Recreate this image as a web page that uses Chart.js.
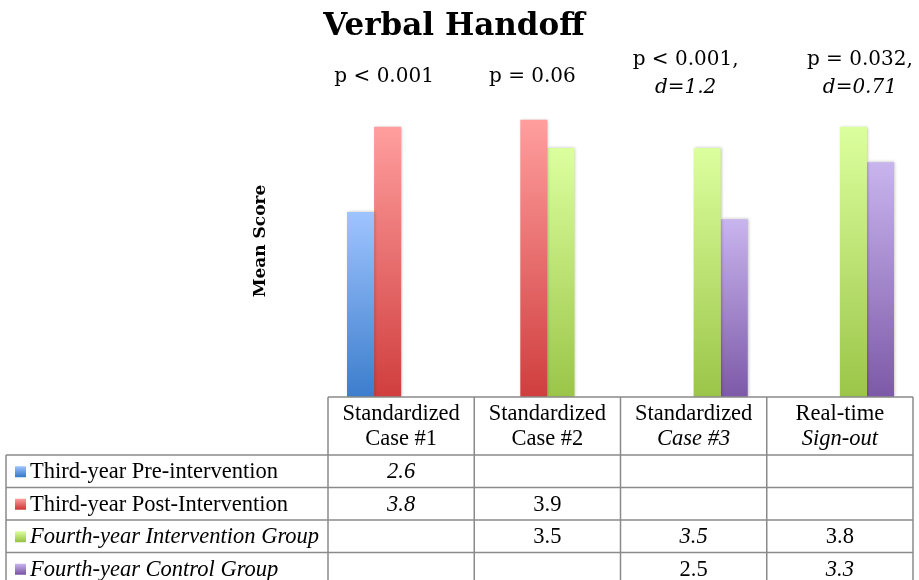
<!DOCTYPE html>
<html>
<head>
<meta charset="utf-8">
<script src="https://cdn.jsdelivr.net/npm/chart.js@4/dist/chart.umd.min.js"></script>
<style>
html,body{margin:0;padding:0;background:#fff;}
canvas{display:block;}
</style>
</head>
<body>
<canvas id="c" width="919" height="580"></canvas>
<script>
// ---- data ----
const categoriesLine1 = ["Standardized", "Standardized", "Standardized", "Real-time"];
const categoriesLine2 = ["Case #1", "Case #2", "Case #3", "Sign-out"];
const seriesNames = ["Third-year Pre-intervention", "Third-year Post-Intervention", "Fourth-year Intervention Group", "Fourth-year Control Group"];
const preIntervention  = [2.6, null, null, null];
const postIntervention = [3.8, 3.9, null, null];
const fourthIntervention = [null, 3.5, 3.5, 3.8];
const fourthControl    = [null, null, 2.5, 3.3];
const pLine1 = ["p < 0.001", "p = 0.06", "p < 0.001,", "p = 0.032,"];
const pLine2 = ["", "", "d=1.2", "d=0.71"];
const chartTitle = "Verbal Handoff";
const yTitle = "Mean Score";

// ---- styles ----
const topColors = ["#9fc4ff", "#ff9e9e", "#dcff9e", "#c9b5ee"];
const bottomColors = ["#3c7dcc", "#d03e3e", "#9bc548", "#7d59a8"];
const headerLine2Italic = [false, false, true, true];
const labelItalic = [false, false, true, true];
const cellItalic = [
  [true, false, false, false],
  [true, false, false, false],
  [false, false, true, false],
  [false, false, false, true]
];
const pOffsets = [-17, -15, -8, 20];
const serif = '"Liberation Serif", serif';
const serif2 = '"DejaVu Serif", serif';
const tblFont = '22.5px ';

const allSeries = [preIntervention, postIntervention, fourthIntervention, fourthControl];

function gradFor(si) {
  return function(ctx) {
    const chart = ctx.chart;
    if (!chart.chartArea || ctx.raw == null) return bottomColors[si];
    const y = chart.scales.y;
    const top = y.getPixelForValue(ctx.raw);
    const bot = y.getPixelForValue(0);
    const g = chart.ctx.createLinearGradient(0, top, 0, bot);
    g.addColorStop(0, topColors[si]);
    g.addColorStop(1, bottomColors[si]);
    return g;
  };
}

const decor = {
  id: 'decor',
  beforeDatasetsDraw(chart) {
    const ctx = chart.ctx;
    ctx.save();
    ctx.shadowColor = 'rgba(0,0,0,0.28)';
    ctx.shadowBlur = 3;
    ctx.shadowOffsetX = 1;
    ctx.shadowOffsetY = 0;
  },
  afterDatasetsDraw(chart) {
    chart.ctx.restore();
  },
  afterDraw(chart) {
    const ctx = chart.ctx;
    const a = chart.chartArea;
    const xs = chart.scales.x;
    const n = categoriesLine1.length;
    const colW = (a.right - a.left) / n;
    ctx.save();
    // title
    ctx.fillStyle = '#000';
    ctx.textAlign = 'center';
    ctx.textBaseline = 'middle';
    ctx.font = 'bold 31px ' + serif2;
    ctx.fillText(chartTitle, 454, 27);
    // p-values
    for (let i = 0; i < n; i++) {
      const cx = xs.getPixelForValue(i) + pOffsets[i];
      if (pLine2[i]) {
        ctx.font = '20px ' + serif2;
        ctx.fillText(pLine1[i], cx, 60);
        ctx.font = 'italic 20px ' + serif2;
        ctx.fillText(pLine2[i], cx, 88);
      } else {
        ctx.font = '20px ' + serif2;
        ctx.fillText(pLine1[i], cx, 77);
      }
    }
    // y title
    ctx.save();
    ctx.translate(261, (a.top + a.bottom) / 2 + 4);
    ctx.rotate(-Math.PI / 2);
    ctx.font = 'bold 17px ' + serif2;
    ctx.fillText(yTitle, 0, 0);
    ctx.restore();

    // table
    const headTop = a.bottom;
    const headBot = 455;
    const rowH = 32.5;
    const tblLeft = 6;
    const nRows = seriesNames.length;
    ctx.strokeStyle = '#8a8a8a';
    ctx.lineWidth = 1.5;
    ctx.beginPath();
    ctx.moveTo(a.left, headTop); ctx.lineTo(a.right, headTop);
    for (let r = 0; r <= nRows; r++) {
      const y = headBot + r * rowH;
      ctx.moveTo(tblLeft, y); ctx.lineTo(a.right, y);
    }
    for (let i = 0; i <= n; i++) {
      const x = xs.getPixelForValue(0) - colW / 2 + i * colW;
      ctx.moveTo(x, headTop); ctx.lineTo(x, headBot + nRows * rowH);
    }
    ctx.moveTo(tblLeft, headBot); ctx.lineTo(tblLeft, headBot + nRows * rowH);
    ctx.stroke();

    // header text
    ctx.fillStyle = '#000';
    ctx.textAlign = 'center';
    for (let i = 0; i < n; i++) {
      const cx = xs.getPixelForValue(i);
      ctx.font = tblFont + serif;
      ctx.fillText(categoriesLine1[i], cx, 414);
      ctx.font = (headerLine2Italic[i] ? 'italic ' : '') + tblFont + serif;
      ctx.fillText(categoriesLine2[i], cx, 439);
    }
    // rows
    for (let r = 0; r < nRows; r++) {
      const cy = headBot + r * rowH + rowH / 2;
      const g = ctx.createLinearGradient(0, cy - 5, 0, cy + 5);
      g.addColorStop(0, topColors[r]);
      g.addColorStop(1, bottomColors[r]);
      ctx.fillStyle = g;
      ctx.fillRect(15, cy - 5, 11, 11);
      ctx.fillStyle = '#000';
      ctx.textAlign = 'left';
      ctx.font = (labelItalic[r] ? 'italic ' : '') + tblFont + serif;
      ctx.fillText(seriesNames[r], 30, cy + 1);
      ctx.textAlign = 'center';
      for (let i = 0; i < n; i++) {
        const v = allSeries[r][i];
        if (v == null) continue;
        ctx.font = (cellItalic[r][i] ? 'italic ' : '') + tblFont + serif;
        ctx.fillText(v.toFixed(1), xs.getPixelForValue(i), cy + 1);
      }
    }
    ctx.restore();
  }
};

new Chart(document.getElementById('c'), {
  type: 'bar',
  data: {
    labels: categoriesLine2,
    datasets: allSeries.map((d, si) => ({
      label: seriesNames[si],
      data: d,
      backgroundColor: gradFor(si),
      borderWidth: 0,
      categoryPercentage: 0.74,
      barPercentage: 1.0
    }))
  },
  options: {
    responsive: false,
    animation: false,
    layout: { padding: { left: 328, right: 6, top: 77, bottom: 183 } },
    scales: {
      x: { display: false },
      y: { display: false, min: 0, max: 4.5 }
    },
    plugins: { legend: { display: false }, title: { display: false }, tooltip: { enabled: false } }
  },
  plugins: [decor]
});
</script>
</body>
</html>
